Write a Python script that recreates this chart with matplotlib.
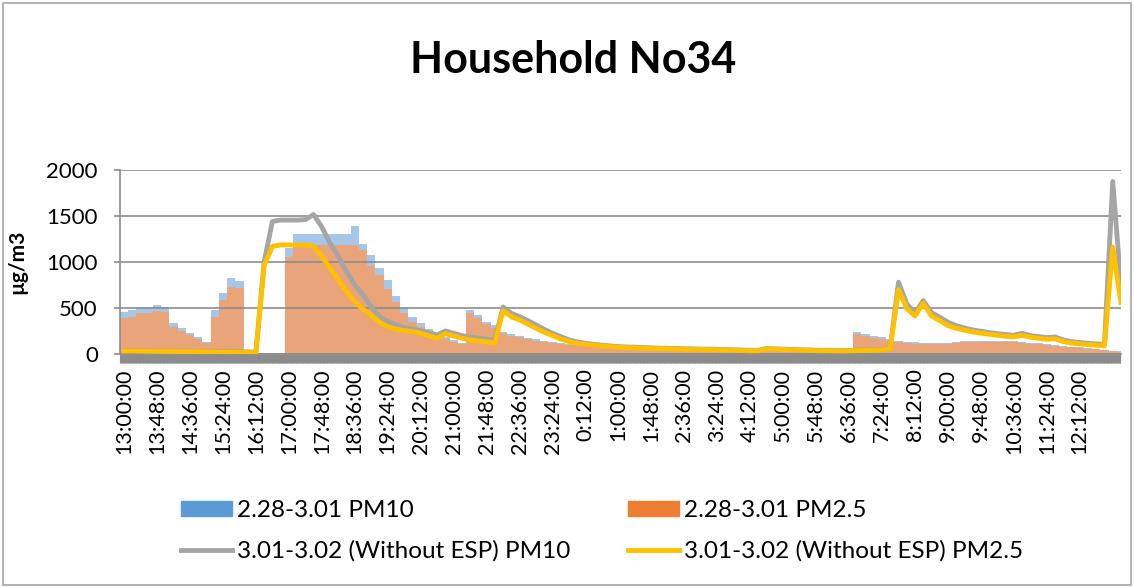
import numpy as np
import matplotlib.pyplot as plt
from matplotlib.patches import Patch, Rectangle
from matplotlib.lines import Line2D

plt.rcParams['font.family'] = ['Lato', 'DejaVu Sans']

# samples every 12 minutes, starting 13:00 on 2.28 / 3.01
step_min = 12

pm10_bar = [460, 480, 515, 500, 530, 515, 335, 280, 225, 180,
            135, 480, 660, 825, 790, 10, 12, 12, 14, 16,
            1150, 1305, 1300, 1305, 1300, 1305, 1300, 1305, 1390, 1200,
            1080, 935, 800, 630, 505, 406, 334, 268, 218, 182,
            153, 124, 479, 424, 352, 316, 243, 218, 196, 178,
            160, 142, 127, 116, 109, 105, 98, 95, 91, 87,
            85, 82, 80, 78, 75, 72, 70, 66, 63, 60,
            58, 56, 54, 52, 50, 48, 46, 44, 42, 40,
            38, 37, 36, 35, 34, 33, 33, 32, 32, 240,
            215, 190, 180, 160, 145, 130, 125, 120, 118, 118,
            120, 130, 138, 142, 146, 146, 145, 142, 138, 130,
            122, 114, 105, 96, 88, 80, 72, 63, 55, 45,
            35, 28]

pm25_bar = [390, 405, 445, 450, 470, 460, 297, 254, 207, 163,
            116, 406, 587, 732, 714, 8, 10, 10, 12, 14,
            1050, 1185, 1185, 1185, 1185, 1185, 1185, 1185, 1180, 1130,
            960, 855, 710, 560, 450, 352, 290, 232, 189, 160,
            134, 109, 442, 388, 326, 279, 225, 200, 182, 163,
            145, 127, 116, 105, 98, 95, 87, 84, 80, 76,
            76, 73, 71, 69, 66, 64, 62, 58, 56, 53,
            51, 49, 47, 46, 44, 42, 40, 39, 37, 35,
            33, 32, 31, 30, 30, 29, 29, 28, 28, 215,
            195, 170, 160, 145, 130, 118, 112, 108, 106, 106,
            108, 118, 126, 130, 134, 134, 133, 130, 126, 118,
            110, 103, 95, 86, 79, 72, 64, 56, 49, 40,
            30, 24]

pm10_line = [38, 37, 36, 35, 34, 33, 32, 31, 30, 29,
             28, 27, 26, 25, 24, 23, 21, 1000, 1440, 1455,
             1455, 1455, 1460, 1515, 1380, 1203, 1058, 895, 750, 642,
             510, 406, 352, 316, 287, 268, 254, 232, 207, 250,
             225, 200, 182, 171, 160, 149, 510, 442, 406, 363,
             316, 268, 225, 189, 153, 131, 116, 105, 95, 87,
             80, 76, 73, 70, 66, 63, 61, 59, 57, 55,
             53, 52, 50, 48, 46, 43, 40, 40, 60, 56,
             52, 49, 46, 44, 41, 39, 38, 37, 38, 40,
             42, 44, 46, 65, 780, 544, 442, 580, 450, 399,
             345, 308, 283, 261, 247, 232, 221, 211, 203, 225,
             200, 189, 178, 185, 153, 134, 124, 116, 109, 105,
             1874, 750]

pm25_line = [33, 32, 31, 30, 29, 28, 27, 26, 25, 24,
             23, 22, 21, 20, 19, 18, 16, 960, 1170, 1185,
             1185, 1185, 1185, 1170, 1060, 932, 805, 678, 569, 486,
             420, 345, 297, 268, 254, 243, 225, 196, 171, 220,
             196, 171, 153, 142, 131, 120, 470, 406, 370, 326,
             279, 236, 200, 163, 134, 116, 105, 95, 87, 80,
             73, 70, 67, 64, 60, 58, 56, 54, 52, 50,
             48, 47, 45, 43, 41, 38, 35, 34, 56, 52,
             48, 45, 42, 40, 37, 35, 34, 33, 34, 36,
             38, 40, 42, 60, 700, 493, 413, 551, 413, 363,
             308, 279, 258, 240, 225, 214, 203, 192, 185, 203,
             182, 171, 160, 165, 134, 120, 109, 102, 95, 91,
             1160, 560]

tick_labels = ["13:00:00", "13:48:00", "14:36:00", "15:24:00", "16:12:00",
               "17:00:00", "17:48:00", "18:36:00", "19:24:00", "20:12:00",
               "21:00:00", "21:48:00", "22:36:00", "23:24:00", "0:12:00",
               "1:00:00", "1:48:00", "2:36:00", "3:24:00", "4:12:00",
               "5:00:00", "5:48:00", "6:36:00", "7:24:00", "8:12:00",
               "9:00:00", "9:48:00", "10:36:00", "11:24:00", "12:12:00"]
tick_every_min = 48

names = ["2.28-3.01 PM10", "2.28-3.01 PM2.5",
         "3.01-3.02 (Without ESP) PM10", "3.01-3.02 (Without ESP) PM2.5"]

t = np.arange(len(pm10_bar)) * step_min

fig = plt.figure(figsize=(11.34, 5.88), dpi=100)
fig.patches.append(Rectangle((0.003, 0.005), 0.994, 0.99, transform=fig.transFigure,
                             fill=False, edgecolor='#a6a6a6', linewidth=1.2))
ax = fig.add_axes([0.1058, 0.398, 0.8827, 0.313])

ax.bar(t, pm10_bar, width=step_min, color='#a4c6e8', linewidth=0, zorder=1)
ax.bar(t, pm25_bar, width=step_min, color='#e9a47a', linewidth=0, zorder=1.1)
ax.plot(t, pm10_line, color='#a5a5a5', lw=3.5, zorder=3, solid_joinstyle='round')
ax.plot(t, pm25_line, color='#ffc000', lw=3.5, zorder=4, solid_joinstyle='round')

ax.set_xlim(-6, 1452)
ax.set_ylim(0, 2000)
ax.set_yticks([0, 500, 1000, 1500, 2000])
ax.set_xticks(np.arange(len(tick_labels)) * tick_every_min)
ax.set_xticklabels(tick_labels, rotation=90)
ax.set_xticks(np.arange(-6, 1452, 1), minor=True)

ax.set_axisbelow(False)
ax.yaxis.grid(True, color='#8c8c8c', lw=1.2)
ax.tick_params(axis='x', which='both', length=6.5, width=0.8, color='#8c8c8c',
               labelsize=15.5, pad=4)
ax.tick_params(axis='y', length=4, width=1.2, color='#8c8c8c', labelsize=16, pad=12)
for s in ['top', 'right']:
    ax.spines[s].set_visible(False)
for s in ['left', 'bottom']:
    ax.spines[s].set_color('#8c8c8c')
    ax.spines[s].set_linewidth(1.2)

ax.set_ylabel("µg/m3", fontsize=15, fontweight='bold', labelpad=14)
fig.text(0.505, 1 - 60 / 588, "Household No34", ha='center', va='center',
         fontsize=31, fontweight='bold')

handles = [Patch(color='#5b9bd5'), Line2D([], [], color='#a5a5a5', lw=3.5),
           Patch(color='#ed7d31'), Line2D([], [], color='#ffc000', lw=3.5)]
labels = [names[0], names[2], names[1], names[3]]
fig.legend(handles, labels, ncol=2, frameon=False, fontsize=17.5,
           loc='center left', bbox_to_anchor=(0.14, 1 - 531 / 588),
           handlelength=2.1, handleheight=0.6, handletextpad=0.2,
           columnspacing=2.4, labelspacing=0.8)

fig.savefig("out.png", dpi=100)
